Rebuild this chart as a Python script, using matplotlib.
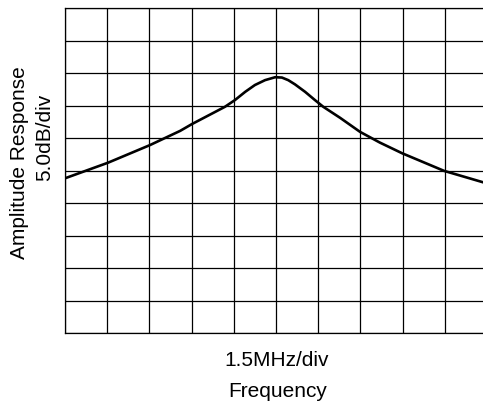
import matplotlib
matplotlib.use("Agg")
import matplotlib.pyplot as plt

# curve, in grid divisions (1.5 MHz/div, 5.0 dB/div)
freq_div = [0, 1.02, 2.01, 2.73, 3.01, 3.79, 4.03, 4.27, 4.50, 4.74, 4.98,
            5.14, 5.29, 5.45, 5.69, 5.92, 6.12, 6.52, 6.99, 7.46, 7.99, 8.98,
            9.9, 10.0]
amp_div = [4.76, 5.24, 5.78, 6.22, 6.43, 6.96, 7.17, 7.42, 7.63, 7.78, 7.87,
           7.86, 7.78, 7.65, 7.42, 7.17, 6.96, 6.62, 6.19, 5.86, 5.53, 4.99,
           4.64, 4.60]
n_div = 10

W, H = 483, 407
plt.rcParams["font.family"] = ["Liberation Sans", "DejaVu Sans"]
fig = plt.figure(figsize=(W / 100, H / 100), dpi=100)
ax = fig.add_axes([65 / W, (H - 333) / H, 422 / W, 325 / H])

ax.set_xlim(0, n_div)
ax.set_ylim(0, n_div)
ax.set_xticks(range(n_div + 1))
ax.set_yticks(range(n_div + 1))
ax.tick_params(length=0, labelbottom=False, labelleft=False)
ax.grid(True, color="black", lw=0.9)
for s in ax.spines.values():
    s.set_color("black")
    s.set_linewidth(0.9)

ax.plot(freq_div, amp_div, color="black", lw=1.9, solid_capstyle="round",
        solid_joinstyle="round")

fs = 15
fig.text(25 / W, 1 - 163 / H, "Amplitude Response", rotation=90, fontsize=fs,
         ha="center", va="baseline", rotation_mode="anchor")
fig.text(50 / W, 1 - 137 / H, "5.0dB/div", rotation=90, fontsize=fs,
         ha="center", va="baseline", rotation_mode="anchor")
fig.text(277 / W, 1 - 366.5 / H, "1.5MHz/div", fontsize=fs,
         ha="center", va="baseline")
fig.text(278 / W, 1 - 397 / H, "Frequency", fontsize=fs,
         ha="center", va="baseline")

fig.savefig("out.png", dpi=100)
